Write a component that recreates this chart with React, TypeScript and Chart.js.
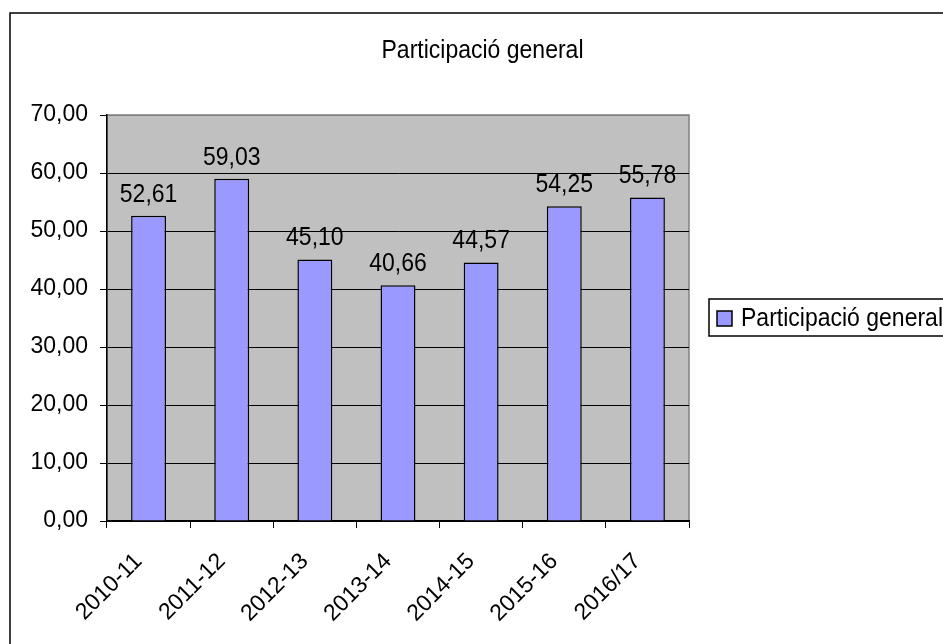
import React, { useEffect, useRef } from "react";
import { Chart, registerables } from "chart.js";

Chart.register(...registerables);

const title = "Participació general";
const seriesName = "Participació general";
const categories = ["2010-11", "2011-12", "2012-13", "2013-14", "2014-15", "2015-16", "2016/17"];
const values = [52.61, 59.03, 45.1, 40.66, 44.57, 54.25, 55.78];
const yMin = 0;
const yMax = 70;
const yStep = 10;

const FONT = '"Liberation Sans", Arial, Helvetica, sans-serif';
const FS = 23;
const SY = 1.12;
const fmt = (v: number) => v.toFixed(2).replace(".", ",");

function textAt(ctx: CanvasRenderingContext2D, s: string, x: number, y: number) {
  ctx.save();
  ctx.translate(x, y);
  ctx.scale(1, SY);
  ctx.fillText(s, 0, 0);
  ctx.restore();
}

export default function App() {
  const ref = useRef<HTMLCanvasElement | null>(null);

  useEffect(() => {
    if (!ref.current) return;
    const decor = {
      id: "decor",
      beforeDraw(chart: any) {
        const { ctx, chartArea: a } = chart;
        ctx.save();
        ctx.fillStyle = "#ffffff";
        ctx.fillRect(0, 0, chart.width, chart.height);
        ctx.strokeStyle = "#000";
        ctx.lineWidth = 1.5;
        ctx.strokeRect(10, 13, 1000, 700);
        ctx.fillStyle = "#C0C0C0";
        ctx.fillRect(a.left, a.top, a.right - a.left, a.bottom - a.top);
        ctx.strokeStyle = "#808080";
        ctx.lineWidth = 1.5;
        ctx.strokeRect(a.left, a.top, a.right - a.left, a.bottom - a.top);
        ctx.fillStyle = "#000";
        ctx.font = `${FS}px ${FONT}`;
        ctx.textAlign = "center";
        ctx.textBaseline = "alphabetic";
        textAt(ctx, title, 482.5, 58);
        ctx.strokeStyle = "#000";
        ctx.lineWidth = 1.5;
        ctx.strokeRect(709, 299, 300, 37);
        ctx.fillStyle = "#9999FF";
        ctx.fillRect(717, 311, 15, 15);
        ctx.strokeRect(717, 311, 15, 15);
        ctx.fillStyle = "#000";
        ctx.textAlign = "left";
        ctx.textBaseline = "middle";
        textAt(ctx, seriesName, 741, 318.5);
        ctx.restore();
      },
      afterDatasetsDraw(chart: any) {
        const { ctx } = chart;
        const meta = chart.getDatasetMeta(0);
        ctx.save();
        ctx.fillStyle = "#000";
        ctx.font = `${FS}px ${FONT}`;
        ctx.textAlign = "center";
        ctx.textBaseline = "alphabetic";
        meta.data.forEach((el: any, i: number) => {
          textAt(ctx, fmt(values[i]), el.x, el.y - 14);
        });
        ctx.restore();
      },
    };

    const chart = new Chart(ref.current, {
      type: "bar",
      data: {
        labels: categories,
        datasets: [
          {
            label: seriesName,
            data: values,
            backgroundColor: "#9999FF",
            borderColor: "#000",
            borderWidth: 1.5,
            barPercentage: 0.42,
            categoryPercentage: 1,
          },
        ],
      },
      options: {
        responsive: false,
        animation: false,
        layout: { padding: { left: 0, right: 254, top: 115, bottom: 0 } },
        plugins: {
          legend: { display: false },
          title: { display: false },
          tooltip: { enabled: false },
        },
        scales: {
          y: {
            min: yMin,
            max: yMax,
            afterFit(scale: any) {
              scale.width = 107;
            },
            ticks: {
              stepSize: yStep,
              color: "#000",
              padding: 12,
              font: { family: FONT, size: FS },
              callback: (v: any) => fmt(Number(v)),
            },
            grid: {
              color: (c: any) => (c.tick && c.tick.value === yMax ? "#808080" : "#000"),
              lineWidth: 1,
              tickLength: 7,
              tickColor: "#000",
            },
            border: { color: "#000", width: 1.5 },
          },
          x: {
            afterFit(scale: any) {
              scale.height = 123;
            },
            ticks: {
              color: "#000",
              autoSkip: false,
              maxRotation: 45,
              minRotation: 45,
              padding: 20,
              labelOffset: -10,
              font: { family: FONT, size: FS },
            },
            grid: {
              offset: true,
              drawOnChartArea: false,
              tickLength: 7,
              tickColor: "#000",
              lineWidth: 1,
            },
            border: { color: "#000", width: 1.5 },
          },
        },
      },
      plugins: [decor],
    });
    return () => chart.destroy();
  }, []);

  return (
    <div style={{ position: "absolute", left: 0, top: 0, width: 943, height: 644 }}>
      <canvas ref={ref} width={943} height={644} />
    </div>
  );
}
